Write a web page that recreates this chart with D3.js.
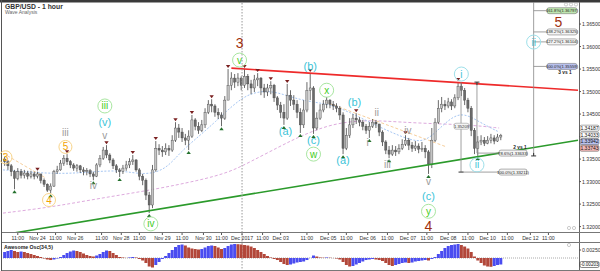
<!DOCTYPE html>
<html>
<head>
<meta charset="utf-8">
<script src="https://cdn.jsdelivr.net/npm/d3@7"></script>
<style>
  html, body { margin: 0; padding: 0; background: #fff; }
  svg { display: block; font-family: "Liberation Sans", Arial, sans-serif; }
</style>
</head>
<body>
<div id="chart"></div>
<script>
// GBP/USD 1 hour, one entry per 2-hour bar (bar i sits at hour 2i+1)
const closes = [
  1.3344, 1.3335, 1.3322, 1.3307, 1.3322, 1.3314, 1.3319, 1.3312, 1.3317, 1.3312,
  1.3317, 1.3303, 1.3294, 1.3281, 1.3290, 1.3322, 1.3326, 1.3341, 1.3352, 1.3344,
  1.3337, 1.3330, 1.3335, 1.3326, 1.3322, 1.3324, 1.3317, 1.3312, 1.3337, 1.3352,
  1.3370, 1.3359, 1.3348, 1.3335, 1.3326, 1.3322, 1.3330, 1.3337, 1.3344, 1.3348,
  1.3326, 1.3312, 1.3303, 1.3270, 1.3248, 1.3326, 1.3374, 1.3370, 1.3366, 1.3374,
  1.3370, 1.3392, 1.3419, 1.3410, 1.3397, 1.3392, 1.3401, 1.3437, 1.3423, 1.3414,
  1.3426, 1.3454, 1.3472, 1.3468, 1.3454, 1.3448, 1.3441, 1.3481, 1.3514, 1.3530,
  1.3521, 1.3530, 1.3514, 1.3534, 1.3517, 1.3508, 1.3526, 1.3530, 1.3508, 1.3499,
  1.3508, 1.3514, 1.3486, 1.3470, 1.3454, 1.3441, 1.3492, 1.3481, 1.3472, 1.3454,
  1.3426, 1.3459, 1.3503, 1.3508, 1.3419, 1.3441, 1.3459, 1.3472, 1.3481, 1.3472,
  1.3468, 1.3463, 1.3448, 1.3374, 1.3403, 1.3426, 1.3441, 1.3437, 1.3432, 1.3423,
  1.3414, 1.3423, 1.3432, 1.3428, 1.3410, 1.3388, 1.3370, 1.3361, 1.3370, 1.3366,
  1.3374, 1.3383, 1.3392, 1.3381, 1.3374, 1.3379, 1.3372, 1.3374, 1.3366, 1.3339,
  1.3392, 1.3432, 1.3463, 1.3472, 1.3468, 1.3477, 1.3468, 1.3486, 1.3512, 1.3503,
  1.3481, 1.3463, 1.3414, 1.3374, 1.3388, 1.3392, 1.3385, 1.3392, 1.3397, 1.3390,
  1.3399, 1.3403
];
const highs = [
  1.3355, 1.3348, 1.3339, 1.3326, 1.3330, 1.3328, 1.3326, 1.3324, 1.3324, 1.3322,
  1.3322, 1.3314, 1.3307, 1.3296, 1.3296, 1.3326, 1.3335, 1.3348, 1.3359, 1.3361,
  1.3348, 1.3341, 1.3339, 1.3337, 1.3332, 1.3330, 1.3328, 1.3322, 1.3341, 1.3359,
  1.3377, 1.3381, 1.3363, 1.3352, 1.3339, 1.3330, 1.3337, 1.3346, 1.3352, 1.3359,
  1.3350, 1.3330, 1.3317, 1.3307, 1.3277, 1.3337, 1.3390, 1.3383, 1.3379, 1.3385,
  1.3381, 1.3403, 1.3432, 1.3428, 1.3419, 1.3406, 1.3414, 1.3448, 1.3441, 1.3432,
  1.3437, 1.3463, 1.3481, 1.3483, 1.3472, 1.3463, 1.3454, 1.3490, 1.3550, 1.3543,
  1.3539, 1.3541, 1.3534, 1.3550, 1.3539, 1.3526, 1.3537, 1.3541, 1.3532, 1.3517,
  1.3517, 1.3523, 1.3517, 1.3490, 1.3477, 1.3472, 1.3517, 1.3503, 1.3492, 1.3481,
  1.3463, 1.3481, 1.3521, 1.3541, 1.3512, 1.3454, 1.3472, 1.3481, 1.3488, 1.3483,
  1.3479, 1.3474, 1.3468, 1.3454, 1.3419, 1.3441, 1.3450, 1.3452, 1.3443, 1.3437,
  1.3428, 1.3432, 1.3439, 1.3437, 1.3428, 1.3414, 1.3392, 1.3379, 1.3381, 1.3379,
  1.3383, 1.3394, 1.3403, 1.3397, 1.3388, 1.3390, 1.3385, 1.3388, 1.3381, 1.3370,
  1.3419, 1.3441, 1.3481, 1.3488, 1.3481, 1.3486, 1.3483, 1.3494, 1.3521, 1.3519,
  1.3508, 1.3486, 1.3468, 1.3419, 1.3401, 1.3403, 1.3399, 1.3401, 1.3406, 1.3403,
  1.3406, 1.3406
];
const lows = [
  1.3335, 1.3326, 1.3312, 1.3283, 1.3303, 1.3307, 1.3307, 1.3305, 1.3307, 1.3305,
  1.3307, 1.3296, 1.3288, 1.3277, 1.3274, 1.3288, 1.3317, 1.3324, 1.3335, 1.3337,
  1.3330, 1.3324, 1.3322, 1.3319, 1.3314, 1.3314, 1.3310, 1.3303, 1.3310, 1.3332,
  1.3348, 1.3352, 1.3341, 1.3328, 1.3319, 1.3310, 1.3317, 1.3324, 1.3330, 1.3337,
  1.3322, 1.3303, 1.3292, 1.3259, 1.3230, 1.3241, 1.3322, 1.3359, 1.3355, 1.3359,
  1.3357, 1.3366, 1.3388, 1.3397, 1.3388, 1.3381, 1.3370, 1.3397, 1.3414, 1.3406,
  1.3410, 1.3419, 1.3450, 1.3454, 1.3444, 1.3439, 1.3423, 1.3437, 1.3481, 1.3503,
  1.3508, 1.3512, 1.3503, 1.3508, 1.3503, 1.3494, 1.3499, 1.3512, 1.3492, 1.3486,
  1.3490, 1.3494, 1.3477, 1.3459, 1.3441, 1.3426, 1.3437, 1.3468, 1.3459, 1.3441,
  1.3408, 1.3419, 1.3454, 1.3481, 1.3406, 1.3414, 1.3437, 1.3454, 1.3463, 1.3463,
  1.3459, 1.3454, 1.3437, 1.3361, 1.3370, 1.3397, 1.3419, 1.3428, 1.3423, 1.3414,
  1.3406, 1.3397, 1.3419, 1.3419, 1.3401, 1.3379, 1.3361, 1.3352, 1.3357, 1.3357,
  1.3361, 1.3370, 1.3379, 1.3370, 1.3366, 1.3368, 1.3363, 1.3366, 1.3352, 1.3317,
  1.3330, 1.3388, 1.3428, 1.3454, 1.3459, 1.3463, 1.3459, 1.3463, 1.3481, 1.3490,
  1.3470, 1.3454, 1.3401, 1.3361, 1.3357, 1.3381, 1.3379, 1.3383, 1.3385, 1.3383,
  1.3388, 1.3392
];
const firstOpen = 1.3350;

// Awesome Oscillator (34,5), one value per bar
const aoValues = [
  0.00188, 0.00219, 0.00250, 0.00219, 0.00188, 0.00203, 0.00188, 0.00156, 0.00125, 0.00094,
  0.00063, 0.00031, -0.00016, -0.00047, -0.00063, -0.00047, -0.00016, 0.00031, 0.00094, 0.00156,
  0.00203, 0.00234, 0.00219, 0.00188, 0.00141, 0.00094, 0.00063, 0.00047, 0.00078, 0.00125,
  0.00188, 0.00234, 0.00219, 0.00156, 0.00094, 0.00031, 0.00016, 0.00003, 0.00016, 0.00031,
  0.00016, -0.00031, -0.00078, -0.00156, -0.00266, -0.00297, -0.00219, -0.00125, -0.00031, 0.00063,
  0.00156, 0.00250, 0.00344, 0.00406, 0.00422, 0.00391, 0.00328, 0.00297, 0.00281, 0.00266,
  0.00281, 0.00328, 0.00375, 0.00391, 0.00375, 0.00328, 0.00281, 0.00313, 0.00375, 0.00422,
  0.00438, 0.00431, 0.00422, 0.00406, 0.00391, 0.00359, 0.00313, 0.00250, 0.00188, 0.00125,
  0.00063, 0.00016, -0.00031, -0.00063, -0.00125, -0.00188, -0.00219, -0.00203, -0.00172, -0.00141,
  -0.00125, -0.00109, -0.00063, 0.00003, 0.00078, 0.00047, 0.00016, 0.00009, 0.00016, 0.00009,
  -0.00003, -0.00016, -0.00047, -0.00125, -0.00219, -0.00266, -0.00250, -0.00203, -0.00156, -0.00109,
  -0.00063, -0.00047, -0.00031, -0.00047, -0.00063, -0.00094, -0.00156, -0.00219, -0.00250, -0.00219,
  -0.00188, -0.00156, -0.00141, -0.00156, -0.00141, -0.00109, -0.00094, -0.00078, -0.00063, -0.00078,
  -0.00031, 0.00031, 0.00125, 0.00219, 0.00313, 0.00375, 0.00406, 0.00422, 0.00438, 0.00406,
  0.00359, 0.00297, 0.00188, 0.00047, -0.00078, -0.00156, -0.00234, -0.00266, -0.00275, -0.00250,
  -0.00219, -0.00203
];

// fractal markers (bar indices)
const topMarks = [10, 19, 31, 39, 46, 52, 57, 63, 68, 73, 77, 81, 86, 93, 107, 122, 138];
const bottomMarks = [3, 14, 27, 35, 44, 56, 66, 85, 90, 94, 103, 111, 117, 129, 144];

// moving averages, sampled (hour, price)
const maSlowHours = [0, 29, 59, 90, 120, 138, 150, 169, 181, 201, 223, 242, 266, 284, 302];
const maSlow = [1.3230, 1.3243, 1.3263, 1.3281, 1.3303, 1.3321, 1.3343, 1.3379, 1.3401, 1.3430, 1.3437, 1.3432, 1.3428, 1.3426, 1.3419];
const maFastHours = [0, 16, 35, 53, 71, 86, 99, 108, 120, 129, 140, 150, 163, 175, 187, 199, 211, 223, 236, 248, 257, 266, 278, 290, 302];
const maFast = [1.3326, 1.3321, 1.3317, 1.3321, 1.3326, 1.3314, 1.3326, 1.3366, 1.3403, 1.3432, 1.3470, 1.3497, 1.3503, 1.3488, 1.3477, 1.3472, 1.3454, 1.3432, 1.3410, 1.3392, 1.3388, 1.3419, 1.3459, 1.3432, 1.3410];

// trend lines (hour, price)
const redLine = [[139, 1.3552], [350, 1.3503]];
const greenLine = [[7, 1.3186], [350, 1.3392]];
const orangeLines = [
  [[0, 1.3363], [26, 1.3308]],
  [[196, 1.3477], [270, 1.3377]]
];

// time axis
const tickHours = [9, 21, 32, 44, 60, 72, 83, 97, 109, 122, 133, 145.5, 158, 169, 185, 198, 209, 222, 234, 246.5, 258, 271, 283, 295, 307, 321, 332];
const tickLabels = ["11:00", "Nov 24", "11:00", "Nov 26", "11:00", "Nov 28", "11:00", "Nov 29", "11:00", "Nov 30", "11:00", "Dec 2017", "11:00", "Dec 03", "11:00", "Dec 05", "11:00", "Dec 06", "11:00", "Dec 07", "11:00", "Dec 08", "11:00", "Dec 10", "11:00", "Dec 12", "11:00"];
const priceTicks = [1.320, 1.325, 1.330, 1.335, 1.340, 1.345, 1.350, 1.355, 1.360, 1.365];

// fibonacci extension (wave 5 targets)
const fibLabels = ["161.8%", "138.2%", "127.2%", "100.0%"];
const fibPrices = [1.36797, 1.36325, 1.36104, 1.35559];
const fibFills = ["#bfe6b0", "#f4f4f4", "#f4f4f4", "#b8c0ee"];
// retracement of wave i
const retLabels = ["78.6%", "100.0%"];
const retPrices = [1.33633, 1.33211];

// right axis price flags
const flagPrices = [1.34187, 1.34033, 1.33942, 1.33743];
const flagFills = ["#ffffff", "#ffffff", "#b8c0ee", "#f2b8b8"];

// wave labels: text, hour, price, style
const waveLabels = [
  ["3", 144, 1.3608, "big"], ["5", 338, 1.3654, "big"], ["4", 259, 1.3201, "big"],
  ["iii", 62, 1.3468, "green"], ["iv", 90, 1.3206, "green"], ["v", 144, 1.3570, "green"],
  ["x", 197, 1.3503, "green"], ["w", 189, 1.3361, "green"], ["y", 259, 1.3234, "green"],
  ["3", 1.5, 1.3354, "orange"], ["4", 28, 1.3259, "orange"], ["5", 38, 1.3377, "orange"],
  ["(v)", 62, 1.3432, "cyan"], ["(b)", 187, 1.3557, "cyan"], ["(a)", 172, 1.3412, "cyan"],
  ["(c)", 189, 1.3392, "cyan"], ["(a)", 207, 1.3348, "cyan"], ["(b)", 214, 1.3477, "cyan"],
  ["(c)", 259, 1.3267, "cyan"],
  ["i", 279, 1.3539, "cyanc"], ["ii", 288.5, 1.3337, "cyanc"], ["ii", 323, 1.3610, "cyanc"],
  ["iii", 38, 1.3408, "gray"], ["v", 62, 1.3403, "gray"], ["iv", 55, 1.3292, "gray"],
  ["i", 222, 1.3386, "gray"], ["ii", 227.5, 1.3454, "gray"], ["iii", 234, 1.3337, "gray"],
  ["iv", 246.5, 1.3414, "gray"], ["v", 259, 1.3300, "gray"]
];

document.addEventListener("DOMContentLoaded", () => {
    const width = 600, height = 271;
    const axisX = 579;

    const svg = d3.select("#chart").append("svg")
        .attr("width", width)
        .attr("height", height);

    const x = d3.scaleLinear().domain([0, 350]).range([3, 578]);
    const y = d3.scaleLinear().domain([1.3188, 1.3699]).range([232, 2]);
    const yAO = d3.scaleLinear().domain([-0.00375, 0.00469]).range([270, 243]);
    const barX = i => x(2 * i + 1);

    svg.append("defs").append("clipPath").attr("id", "price-clip")
        .append("rect").attr("x", 3).attr("y", 2).attr("width", axisX - 3).attr("height", 230);

    // frame
    svg.append("rect").attr("x", 0).attr("y", 0).attr("width", width).attr("height", 2.5).attr("fill", "#3a3a3a");
    svg.append("line").attr("x1", 1.5).attr("x2", 1.5).attr("y1", 0).attr("y2", height).attr("stroke", "#555");
    svg.append("line").attr("x1", axisX + 0.5).attr("x2", axisX + 0.5).attr("y1", 2).attr("y2", 270).attr("stroke", "#666");
    [232.5, 242.5, 270.5].forEach(v => {
        svg.append("line").attr("x1", 2).attr("x2", width).attr("y1", v).attr("y2", v).attr("stroke", "#777");
    });

    const plot = svg.append("g").attr("clip-path", "url(#price-clip)");

    // Dec 2017 separator
    svg.append("line")
        .attr("x1", x(145.5)).attr("x2", x(145.5))
        .attr("y1", 3).attr("y2", 270)
        .attr("stroke", "#999").attr("stroke-dasharray", "1.5,1.5");

    // moving averages
    const maLine = d3.line().x(d => x(d[0])).y(d => y(d[1])).curve(d3.curveBasis);
    plot.append("path")
        .attr("d", maLine(maSlowHours.map((h, i) => [h, maSlow[i]])))
        .attr("fill", "none").attr("stroke", "#d9a0d9").attr("stroke-width", 0.9).attr("stroke-dasharray", "3,2");
    plot.append("path")
        .attr("d", maLine(maFastHours.map((h, i) => [h, maFast[i]])))
        .attr("fill", "none").attr("stroke", "#9cc0f0").attr("stroke-width", 0.9).attr("stroke-dasharray", "2,1.5");

    orangeLines.forEach(l => {
        plot.append("line")
            .attr("x1", x(l[0][0])).attr("y1", y(l[0][1]))
            .attr("x2", x(l[1][0])).attr("y2", y(l[1][1]))
            .attr("stroke", "#f5c890").attr("stroke-width", 0.9).attr("stroke-dasharray", "3,2");
    });

    // candles
    const bars = closes.map((c, i) => ({
        i, c, o: i === 0 ? firstOpen : closes[i - 1], h: highs[i], l: lows[i]
    }));
    const candle = plot.selectAll(".candle").data(bars).enter().append("g").attr("class", "candle");
    candle.append("line")
        .attr("x1", d => barX(d.i)).attr("x2", d => barX(d.i))
        .attr("y1", d => y(Math.max(d.h, d.o, d.c))).attr("y2", d => y(Math.min(d.l, d.o, d.c)))
        .attr("stroke", "#444").attr("stroke-width", 0.8);
    candle.append("rect")
        .attr("x", d => barX(d.i) - 1.1).attr("width", 2.2)
        .attr("y", d => y(Math.max(d.o, d.c)))
        .attr("height", d => Math.max(0.8, Math.abs(y(d.o) - y(d.c))))
        .attr("fill", d => d.c >= d.o ? "#c4c4c4" : "#6a6a6a")
        .attr("stroke", "#444").attr("stroke-width", 0.4);

    // trend lines
    [[redLine, "#ee2a2a"], [greenLine, "#2b9a2b"]].forEach(([l, col]) => {
        plot.append("line")
            .attr("x1", x(l[0][0])).attr("y1", y(l[0][1]))
            .attr("x2", x(l[1][0])).attr("y2", y(l[1][1]))
            .attr("stroke", col).attr("stroke-width", 1.6);
    });

    // fractal markers
    plot.selectAll(".top-mark").data(topMarks).enter().append("path")
        .attr("d", i => `M${barX(i) - 2.2},${y(highs[i]) - 4} h4.4 l-2.2,3 z`)
        .attr("fill", "#7a2020");
    plot.selectAll(".bottom-mark").data(bottomMarks).enter().append("path")
        .attr("d", i => `M${barX(i) - 2.2},${y(lows[i]) + 4} h4.4 l-2.2,-3 z`)
        .attr("fill", "#23702c");

    // fibonacci extension
    const fibX = x(323);
    plot.append("line").attr("x1", fibX).attr("x2", fibX).attr("y1", 2).attr("y2", y(1.3357))
        .attr("stroke", "#888").attr("stroke-width", 0.8);
    plot.append("path")
        .attr("d", `M${fibX - 2.5},${y(1.3357)} h5 M${fibX},${y(1.3357)} v-3`)
        .attr("stroke", "#333").attr("stroke-width", 1);
    fibPrices.forEach((p, i) => {
        plot.append("line").attr("x1", fibX).attr("x2", 548).attr("y1", y(p)).attr("y2", y(p))
            .attr("stroke", "#888").attr("stroke-width", 0.8);
        plot.append("rect").attr("x", 547).attr("y", y(p) - 3).attr("width", 30).attr("height", 6).attr("rx", 2)
            .attr("fill", fibFills[i]).attr("stroke", "#666").attr("stroke-width", 0.5);
        plot.append("text").attr("x", 562).attr("y", y(p) + 1.5).attr("text-anchor", "middle")
            .attr("font-size", 4.2).attr("fill", "#222")
            .text(`${fibLabels[i]}(${p.toFixed(5)})`);
    });
    svg.append("text").attr("x", 565).attr("y", y(fibPrices[3]) + 7.5).attr("text-anchor", "middle")
        .attr("font-size", 4.8).attr("font-weight", "bold").attr("fill", "#222").text("3 vs 1");
    svg.append("text").attr("x", 520).attr("y", y(1.3392) + 9).attr("text-anchor", "middle")
        .attr("font-size", 4.8).attr("font-weight", "bold").attr("fill", "#222").text("2 vs 1");

    // retracement of wave i
    const rx1 = x(278.8), rx2 = x(288.5);
    plot.append("line").attr("x1", rx1).attr("x2", rx1).attr("y1", y(1.3521)).attr("y2", y(retPrices[1]))
        .attr("stroke", "#888").attr("stroke-width", 0.8);
    plot.append("line").attr("x1", rx2).attr("x2", rx2).attr("y1", y(1.3521)).attr("y2", y(retPrices[0]))
        .attr("stroke", "#888").attr("stroke-width", 0.8);
    plot.append("path").attr("d", `M${rx2 - 2.5},${y(1.3521)} h5 M${rx2},${y(1.3521)} v3`)
        .attr("stroke", "#333").attr("stroke-width", 1);
    plot.append("path").attr("d", `M${rx1 - 2.5},${y(retPrices[1])} h5`)
        .attr("stroke", "#333").attr("stroke-width", 1);
    plot.append("rect").attr("x", rx1 - 7).attr("y", y(1.3423) - 3).attr("width", 15).attr("height", 6).attr("rx", 2)
        .attr("fill", "#f4f4f4").attr("stroke", "#888").attr("stroke-width", 0.5);
    plot.append("text").attr("x", rx1 + 0.5).attr("y", y(1.3423) + 1.5).attr("text-anchor", "middle")
        .attr("font-size", 4.2).attr("fill", "#333").text("1.35209");
    retPrices.forEach((p, i) => {
        plot.append("line").attr("x1", i === 0 ? rx2 : rx1).attr("x2", 500).attr("y1", y(p)).attr("y2", y(p))
            .attr("stroke", "#888").attr("stroke-width", 0.8);
        plot.append("rect").attr("x", 499).attr("y", y(p) - 3).attr("width", 28).attr("height", 6).attr("rx", 2)
            .attr("fill", "#f4f4f4").attr("stroke", "#666").attr("stroke-width", 0.5);
        plot.append("text").attr("x", 513).attr("y", y(p) + 1.5).attr("text-anchor", "middle")
            .attr("font-size", 4.2).attr("fill", "#222")
            .text(`${retLabels[i]}(${p.toFixed(5)})`);
    });

    // wave labels
    const styles = {
        big: { color: "#a0300e", size: 14 },
        green: { color: "#3fcc22", size: 10, ring: "#a8e6a0", r: 7 },
        orange: { color: "#f2a200", size: 10, ring: "#f8d48a", r: 6.5 },
        cyan: { color: "#3cc4d8", size: 11 },
        cyanc: { color: "#3cc4d8", size: 10, ring: "#9ee0ea", r: 7 },
        gray: { color: "#9a9a9a", size: 10 }
    };
    waveLabels.forEach(([t, h, p, s]) => {
        const st = styles[s];
        if (st.ring) {
            svg.append("circle").attr("cx", x(h)).attr("cy", y(p)).attr("r", st.r)
                .attr("fill", "none").attr("stroke", st.ring).attr("stroke-width", 1);
        }
        svg.append("text").attr("x", x(h)).attr("y", y(p))
            .attr("text-anchor", "middle").attr("dominant-baseline", "central")
            .attr("font-size", st.size).attr("fill", st.color)
            .text(t);
    });

    // right axis price flags, stacked so they do not overlap
    const flagY = [];
    flagPrices.forEach((p, i) => {
        flagY.push(i === 0 ? y(p) : Math.max(y(p), flagY[i - 1] + 6.6));
    });

    // right price axis (labels hidden behind the flags are skipped)
    priceTicks.forEach(p => {
        svg.append("line").attr("x1", axisX).attr("x2", axisX + 2).attr("y1", y(p)).attr("y2", y(p)).attr("stroke", "#555");
        if (flagY.some(fy => Math.abs(fy - y(p)) < 5.5)) return;
        svg.append("text").attr("x", 582).attr("y", y(p) + 2).attr("font-size", 5.2).attr("fill", "#333")
            .text(p.toFixed(5));
    });
    flagPrices.forEach((p, i) => {
        svg.append("rect").attr("x", 580).attr("y", flagY[i] - 3).attr("width", 19).attr("height", 6).attr("rx", 1.5)
            .attr("fill", flagFills[i]).attr("stroke", "#555").attr("stroke-width", 0.5);
        svg.append("text").attr("x", 589.5).attr("y", flagY[i] + 1.8).attr("text-anchor", "middle")
            .attr("font-size", 5).attr("fill", "#111").text(p.toFixed(5));
    });

    // time axis
    tickHours.forEach((h, i) => {
        svg.append("line").attr("x1", x(h)).attr("x2", x(h)).attr("y1", 233).attr("y2", 235).attr("stroke", "#555");
        svg.append("text").attr("x", x(h)).attr("y", 239.5).attr("text-anchor", "middle")
            .attr("font-size", 5.2).attr("fill", "#333").text(tickLabels[i]);
    });

    // awesome oscillator
    svg.append("line").attr("x1", 3).attr("x2", axisX).attr("y1", yAO(0)).attr("y2", yAO(0))
        .attr("stroke", "#aaa").attr("stroke-dasharray", "1,1");
    svg.selectAll(".ao").data(aoValues).enter().append("rect")
        .attr("x", (d, i) => barX(i) - 1.5).attr("width", 3)
        .attr("y", d => Math.min(yAO(d), yAO(0)))
        .attr("height", d => Math.abs(yAO(d) - yAO(0)))
        .attr("fill", (d, i) => i > 0 && d < aoValues[i - 1] ? "#b2473a" : "#4a4cf0");
    svg.append("text").attr("x", 4).attr("y", 249).attr("font-size", 5.2).attr("font-weight", "bold")
        .attr("fill", "#222").text("Awesome Osc(34,5)");
    svg.append("line").attr("x1", axisX).attr("x2", axisX + 2).attr("y1", yAO(0.0025)).attr("y2", yAO(0.0025)).attr("stroke", "#555");
    svg.append("text").attr("x", 582).attr("y", yAO(0.0025) + 2).attr("font-size", 5.2).attr("fill", "#333").text("0.00250");
    const aoLast = aoValues[aoValues.length - 1];
    svg.append("rect").attr("x", 580).attr("y", yAO(aoLast) - 3).attr("width", 19).attr("height", 6).attr("rx", 1.5)
        .attr("fill", "#fff").attr("stroke", "#333").attr("stroke-width", 0.6);
    svg.append("text").attr("x", 589.5).attr("y", yAO(aoLast) + 1.8).attr("text-anchor", "middle")
        .attr("font-size", 4.6).attr("fill", "#111").text(aoLast.toFixed(5));

    // title
    svg.append("text").attr("x", 5).attr("y", 8.5).attr("font-size", 6.8).attr("font-weight", "bold")
        .attr("fill", "#333").text("GBP/USD - 1 hour");
    svg.append("text").attr("x", 5).attr("y", 14).attr("font-size", 5).attr("fill", "#666").text("Wave Analysis");

    // small panel icons
    [[566, 4.5], [571, 4.5], [576, 4.5], [569, 228], [574, 228], [569, 245]].forEach(([cx, cy]) => {
        svg.append("circle").attr("cx", cx).attr("cy", cy).attr("r", 1.6)
            .attr("fill", "none").attr("stroke", "#aaa").attr("stroke-width", 0.6);
    });
});
</script>
</body>
</html>
